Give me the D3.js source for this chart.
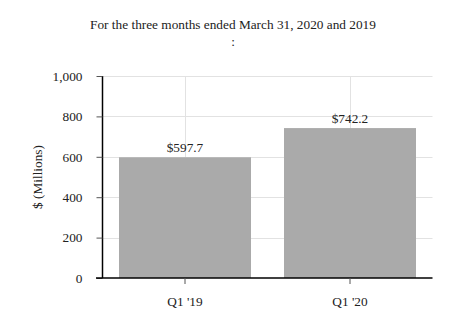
<!DOCTYPE html>
<html>
<head>
<meta charset="utf-8">
<script src="https://cdn.jsdelivr.net/npm/d3@7"></script>
<style>
  body { margin: 0; background: #fff; }
  svg text { font-family: "Liberation Serif", "Times New Roman", "DejaVu Serif", serif !important; fill: #222; }
</style>
</head>
<body>
<div id="chart"></div>
<script>
// data
const categories = ["Q1 '19", "Q1 '20"];
const values = [597.7, 742.2];
const valueLabels = ["$597.7", "$742.2"];
const yTicks = [0, 200, 400, 600, 800, 1000];

const width = 466, height = 333;
const mLeft = 102.5, mRight = 432.5, mTop = 76, mBottom = 278;
const serif = "'Liberation Serif', 'Times New Roman', serif";

const svg = d3.select("#chart").append("svg")
  .attr("width", width)
  .attr("height", height)
  .style("font-family", serif);

const x = d3.scaleBand()
  .domain(categories)
  .range([mLeft, mRight])
  .paddingInner(0.2)
  .paddingOuter(0.1);

const y = d3.scaleLinear()
  .domain([0, 1000])
  .range([mBottom, mTop]);

// grid
svg.append("g")
  .selectAll("line.h")
  .data(yTicks.slice(1))
  .enter().append("line")
  .attr("x1", mLeft).attr("x2", mRight)
  .attr("y1", d => Math.round(y(d)) + 0.5)
  .attr("y2", d => Math.round(y(d)) + 0.5)
  .attr("stroke", "#e2e2e2");

svg.append("g")
  .selectAll("line.v")
  .data(categories)
  .enter().append("line")
  .attr("x1", d => Math.round(x(d) + x.bandwidth() / 2) + 0.5)
  .attr("x2", d => Math.round(x(d) + x.bandwidth() / 2) + 0.5)
  .attr("y1", mTop).attr("y2", mBottom)
  .attr("stroke", "#e2e2e2");

// bars
svg.append("g")
  .selectAll("rect")
  .data(values)
  .enter().append("rect")
  .attr("x", (d, i) => x(categories[i]))
  .attr("y", d => y(d))
  .attr("width", x.bandwidth())
  .attr("height", d => y(0) - y(d))
  .attr("fill", "#aaaaaa");

// value labels
svg.append("g")
  .selectAll("text")
  .data(values)
  .enter().append("text")
  .attr("x", (d, i) => x(categories[i]) + x.bandwidth() / 2)
  .attr("y", d => y(d) - 5)
  .attr("text-anchor", "middle")
  .attr("font-size", 13.3)
  .text((d, i) => valueLabels[i]);

// axes
const yAxis = svg.append("g")
  .attr("transform", "translate(" + mLeft + ",0)")
  .call(d3.axisLeft(y).tickValues(yTicks).tickSize(6).tickPadding(14)
    .tickFormat(d3.format(",")));
yAxis.attr("font-family", null);
yAxis.selectAll("text").attr("font-size", 13.3);
yAxis.select(".domain").attr("stroke", "#000").attr("stroke-width", 1.5)
  .attr("d", "M0," + mTop + "V" + mBottom);
yAxis.selectAll(".tick line").attr("stroke", "#555");

const xAxis = svg.append("g")
  .attr("transform", "translate(0," + mBottom + ")")
  .call(d3.axisBottom(x).tickSize(6).tickPadding(13));
xAxis.attr("font-family", null);
xAxis.selectAll("text").attr("font-size", 13.3);
xAxis.select(".domain").attr("stroke", "#000").attr("stroke-width", 1.5)
  .attr("d", "M96,0H" + mRight);
xAxis.selectAll(".tick line").attr("stroke", "#555");

// y label
svg.append("text")
  .attr("transform", "translate(42," + ((mTop + mBottom) / 2) + ") rotate(-90)")
  .attr("text-anchor", "middle")
  .attr("font-size", 13.3)
  .text("$ (Millions)");

// title
svg.append("text")
  .attr("x", 233).attr("y", 29)
  .attr("text-anchor", "middle")
  .attr("font-size", 13.3)
  .text("For the three months ended March 31, 2020 and 2019");
svg.append("text")
  .attr("x", 233).attr("y", 46)
  .attr("text-anchor", "middle")
  .attr("font-size", 13.3)
  .text(":");
</script>
</body>
</html>
